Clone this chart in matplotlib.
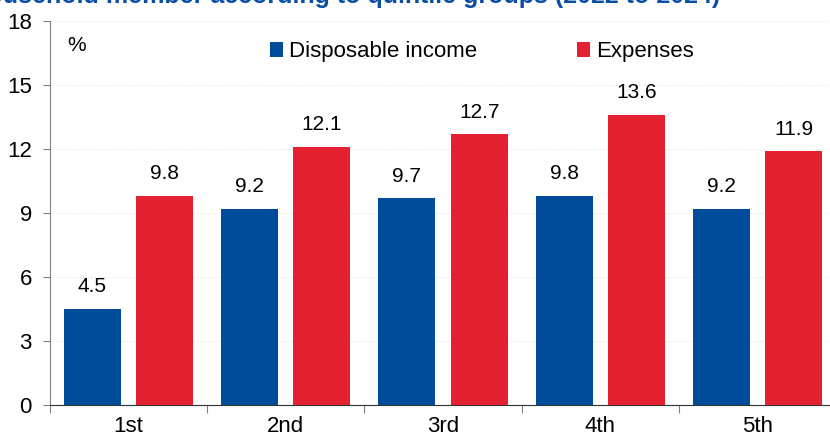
import numpy as np
import matplotlib.pyplot as plt

quintiles = ['1st', '2nd', '3rd', '4th', '5th']
income = [4.5, 9.2, 9.7, 9.8, 9.2]
expenses = [9.8, 12.1, 12.7, 13.6, 11.9]
yticks = [0, 3, 6, 9, 12, 15, 18]

blue = '#004C9B'
red = '#E32130'
plt.rcParams['font.family'] = ['Liberation Sans', 'DejaVu Sans']

fig = plt.figure(figsize=(8.3, 4.38), dpi=100)
ax = fig.add_axes([50 / 830, 33 / 438, 786 / 830, 384 / 438])

x = np.arange(len(quintiles))
w = 0.363
off = 0.23
b1 = ax.bar(x - off, income, w, color=blue, label='Disposable income', zorder=3)
b2 = ax.bar(x + off, expenses, w, color=red, label='Expenses', zorder=3)
for bars, vals in ((b1, income), (b2, expenses)):
    for r, v in zip(bars, vals):
        ax.annotate(f'{v:.1f}', (r.get_x() + r.get_width() / 2, v),
                    xytext=(0, 9), textcoords='offset points',
                    ha='center', va='bottom', fontsize=15)

ax.set_xlim(-0.5, 4.5)
ax.set_ylim(0, 18)
ax.set_yticks(yticks)
ax.tick_params(axis='y', labelsize=16, length=5, color='#808080', pad=8)
ax.set_xticks(np.arange(-0.5, 5, 1))
ax.set_xticklabels([])
ax.set_xticks(x, minor=True)
ax.set_xticklabels(quintiles, minor=True, fontsize=16)
ax.tick_params(axis='x', which='major', length=6, color='#808080', direction='out')
ax.tick_params(axis='x', which='minor', length=0, pad=8)
ax.grid(axis='y', color='#e4e4e4', linestyle=':', linewidth=0.8, zorder=0)
for s in ('top', 'right'):
    ax.spines[s].set_visible(False)
ax.spines['left'].set_color('#808080')
ax.spines['bottom'].set_color('#333333')

ax.text(0.022, 0.96, '%', transform=ax.transAxes, fontsize=15, va='top')
ax.legend(loc='upper left', bbox_to_anchor=(0.255, 1.0), ncol=2, frameon=False,
          fontsize=16, handlelength=0.55, handleheight=0.65, handletextpad=0.3,
          columnspacing=4.5)

fig.text(720 / 830, 1 - 3 / 438,
         'Growth of household member according to quintile groups (2022 to 2024)',
         ha='right', va='baseline', fontsize=18, fontweight='bold', color='#0B4DA2')

fig.savefig('out.png', dpi=100)
